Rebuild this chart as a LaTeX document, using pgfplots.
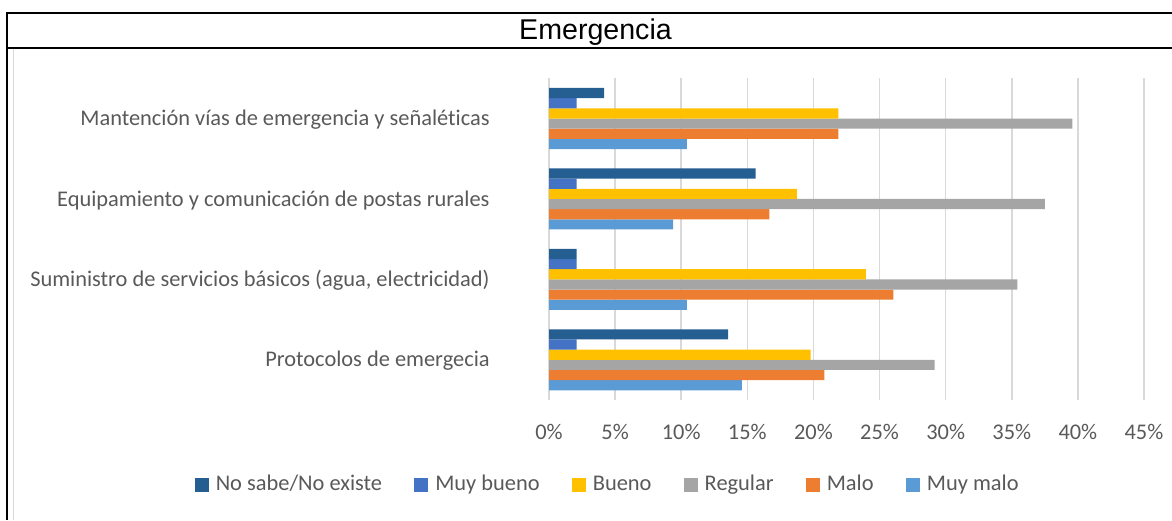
\documentclass[border=0pt]{standalone}
\usepackage{pgfplots}
\pgfplotsset{compat=1.18}
\usepackage{fontspec}
\setmainfont{Carlito}[Ligatures=NoCommon]
\newfontfamily\arialf{Liberation Sans}
\definecolor{cNoSabe}{HTML}{255E91}
\definecolor{cMuyBueno}{HTML}{4472C4}
\definecolor{cBueno}{HTML}{FFC000}
\definecolor{cRegular}{HTML}{A5A5A5}
\definecolor{cMalo}{HTML}{ED7D31}
\definecolor{cMuyMalo}{HTML}{5B9BD5}
\definecolor{txtgray}{HTML}{595959}
\definecolor{gridgray}{HTML}{D9D9D9}
\begin{document}
\begin{tikzpicture}
\path[use as bounding box] (0pt,0pt) rectangle (586pt,-260pt);
% frame
\draw[gridgray, line width=0.75pt] (6.75pt,-24.5pt) -- (6.75pt,-260pt);
\draw[black, line width=1pt] (3.5pt,-6.5pt) -- (586pt,-6.5pt);
\draw[black, line width=1pt] (3.5pt,-23.75pt) -- (586pt,-23.75pt);
\draw[black, line width=1pt] (3.5pt,-6pt) -- (3.5pt,-260pt);
\node[anchor=base, inner sep=0pt, font=\arialf\fontsize{14.3}{16}\selectfont] at (297.75pt,-19.65pt) {Emergencia};
\begin{axis}[
  at={(274.5pt,-200pt)}, anchor=south west,
  scale only axis, width=297.5pt, height=160.85pt,
  xbar=0pt, bar width=5.09pt,
  xmin=0, xmax=45, ymin=-0.5, ymax=3.5,
  xtick={0,5,10,15,20,25,30,35,40,45},
  xticklabels={0\%,5\%,10\%,15\%,20\%,25\%,30\%,35\%,40\%,45\%},
  ytick={0,1,2,3},
  yticklabels={Protocolos de emergecia,Suministro de servicios básicos (agua{,} electricidad),Equipamiento y comunicación de postas rurales,Mantención vías de emergencia y señaléticas},
  major tick length=0pt,
  axis line style={draw=none},
  xmajorgrids, grid style={gridgray, line width=0.75pt},
  ymajorgrids=false,
  tick label style={font=\fontsize{11.2}{13}\selectfont, text=txtgray, inner sep=0pt},
  xticklabel style={anchor=base, yshift=-19.5pt},
  yticklabel style={anchor=base east, xshift=-29.5pt, yshift=-3.6pt},
  reverse legend,
  legend columns=6,
  legend style={at={(0.1025,-0.2642)}, anchor=center, draw=none, fill=none,
    font=\fontsize{11.2}{13}\selectfont, text=txtgray,
    nodes={inner xsep=3.4pt, inner ysep=0pt, text height=7.6pt, text depth=2.4pt},
    /tikz/every even column/.append style={column sep=12.6pt}},
  legend image code/.code={\fill[#1, draw=none] (0pt,-3.6pt) rectangle (7.2pt,3.6pt);},
  every axis plot/.append style={draw=none},
]
\addplot[fill=cMuyMalo] coordinates {(14.58,0) (10.42,1) (9.38,2) (10.42,3)};
\addplot[fill=cMalo] coordinates {(20.83,0) (26.04,1) (16.67,2) (21.88,3)};
\addplot[fill=cRegular] coordinates {(29.17,0) (35.42,1) (37.5,2) (39.58,3)};
\addplot[fill=cBueno] coordinates {(19.79,0) (23.96,1) (18.75,2) (21.88,3)};
\addplot[fill=cMuyBueno] coordinates {(2.08,0) (2.08,1) (2.08,2) (2.08,3)};
\addplot[fill=cNoSabe] coordinates {(13.54,0) (2.08,1) (15.63,2) (4.17,3)};
\legend{Muy malo,Malo,Regular,Bueno,Muy bueno,No sabe/No existe}
\end{axis}
\end{tikzpicture}
\end{document}
